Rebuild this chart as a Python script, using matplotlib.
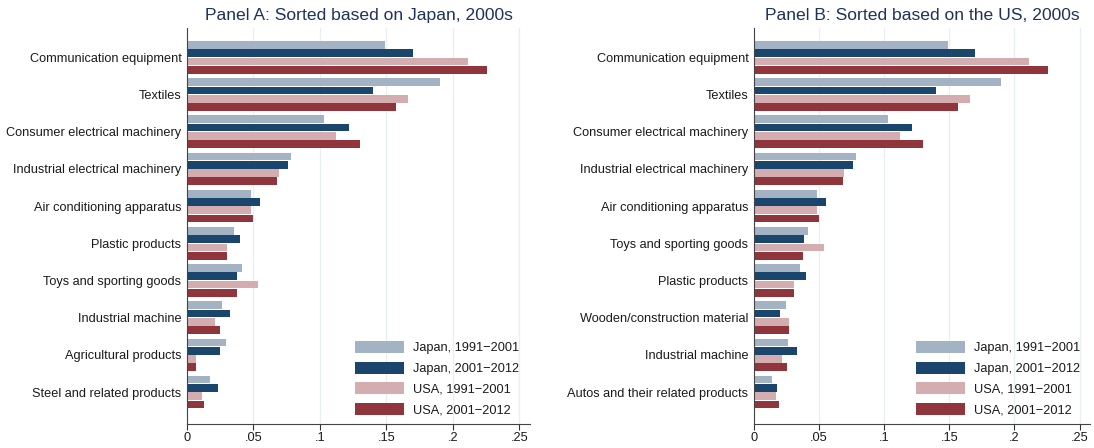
import numpy as np
import matplotlib.pyplot as plt
from matplotlib.patches import Patch

plt.rcParams['font.family'] = ['Liberation Sans', 'DejaVu Sans']

series = ['Japan, 1991\u22122001', 'Japan, 2001\u22122012', 'USA, 1991\u22122001', 'USA, 2001\u22122012']
colors = ['#a3b3c3', '#1a466e', '#d4adb0', '#90353c']

# Panel A: sorted based on Japan
cats_a = ['Communication equipment', 'Textiles', 'Consumer electrical machinery',
          'Industrial electrical machinery', 'Air conditioning apparatus', 'Plastic products',
          'Toys and sporting goods', 'Industrial machine', 'Agricultural products',
          'Steel and related products']
jp91_a = [0.149, 0.190, 0.103, 0.078, 0.0485, 0.0357, 0.041, 0.026, 0.0296, 0.0176]
jp01_a = [0.170, 0.140, 0.1215, 0.076, 0.055, 0.0397, 0.0378, 0.0325, 0.025, 0.0235]
us91_a = [0.211, 0.166, 0.112, 0.069, 0.0485, 0.0304, 0.0533, 0.0213, 0.0067, 0.0115]
us01_a = [0.226, 0.157, 0.130, 0.068, 0.050, 0.0304, 0.0376, 0.0245, 0.0067, 0.0128]

# Panel B: sorted based on the US
cats_b = ['Communication equipment', 'Textiles', 'Consumer electrical machinery',
          'Industrial electrical machinery', 'Air conditioning apparatus', 'Toys and sporting goods',
          'Plastic products', 'Wooden/construction material', 'Industrial machine',
          'Autos and their related products']
jp91_b = [0.149, 0.190, 0.103, 0.078, 0.0485, 0.0418, 0.0356, 0.0246, 0.026, 0.0139]
jp01_b = [0.170, 0.140, 0.1215, 0.076, 0.055, 0.0385, 0.040, 0.020, 0.033, 0.0177]
us91_b = [0.211, 0.166, 0.112, 0.069, 0.0485, 0.054, 0.0308, 0.027, 0.0217, 0.0169]
us01_b = [0.226, 0.157, 0.130, 0.068, 0.050, 0.0377, 0.0308, 0.027, 0.0254, 0.0193]

fig = plt.figure(figsize=(10.94, 4.48), dpi=100)
ax_a = fig.add_axes([187 / 1094, 24 / 448, 343 / 1094, 396 / 448])
ax_b = fig.add_axes([754 / 1094, 24 / 448, 336 / 1094, 396 / 448])

FS = 9.2


def panel(ax, cats, vals, title, leg_x):
    y = np.arange(len(cats))
    step = 0.2225
    for k, v in enumerate(vals):
        ax.barh(y + (k - 1.5) * step, v, height=step * 0.93, color=colors[k], linewidth=0)
    ax.set_yticks(y)
    ax.set_yticklabels(cats, fontsize=FS, color='#1a1a1a')
    ax.set_ylim(len(cats) - 1 + 0.86, -0.79)
    ax.set_xlim(0, 0.258)
    ax.set_xticks([0, 0.05, 0.1, 0.15, 0.2, 0.25])
    ax.set_xticklabels(['0', '.05', '.1', '.15', '.2', '.25'], fontsize=FS, color='#1a1a1a')
    ax.tick_params(axis='y', length=0, pad=4)
    ax.tick_params(axis='x', length=4, width=0.8, color='#333333', pad=2)
    ax.grid(axis='x', color='#e6f0f2', linewidth=0.9)
    ax.set_axisbelow(True)
    for s in ['top', 'right']:
        ax.spines[s].set_visible(False)
    ax.spines['left'].set_color('#444444')
    ax.spines['bottom'].set_color('#444444')
    ax.set_title(title, fontsize=12.6, color='#1f3257', pad=6)
    handles = [Patch(facecolor=c, edgecolor='none') for c in colors]
    fig.legend(handles, series, loc='upper left', bbox_to_anchor=(leg_x, 1 - 341 / 448),
               frameon=False, fontsize=FS, handlelength=3.8, handleheight=1.05,
               handletextpad=0.75, labelspacing=0.58, borderpad=0, borderaxespad=0,
               labelcolor='#1a1a1a')


panel(ax_a, cats_a, [jp91_a, jp01_a, us91_a, us01_a], 'Panel A: Sorted based on Japan, 2000s', 355 / 1094)
panel(ax_b, cats_b, [jp91_b, jp01_b, us91_b, us01_b], 'Panel B: Sorted based on the US, 2000s', 916 / 1094)

fig.savefig('out.png', dpi=100)
